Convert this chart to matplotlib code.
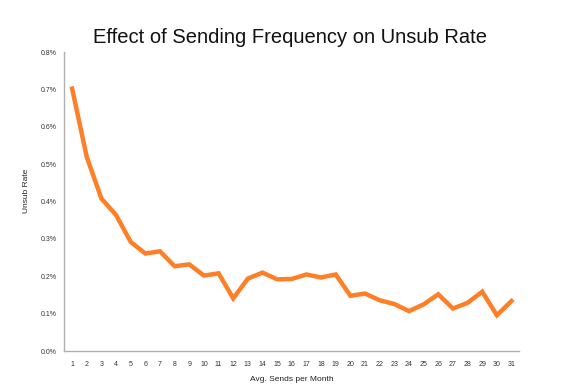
import matplotlib
matplotlib.use("Agg")
import matplotlib.pyplot as plt
from matplotlib.ticker import FuncFormatter

sends = list(range(1, 32))
unsub_rate = [0.702, 0.519, 0.408, 0.364, 0.292, 0.261, 0.267, 0.227, 0.232, 0.202,
              0.208, 0.141, 0.194, 0.210, 0.192, 0.193, 0.205, 0.197, 0.205, 0.148,
              0.154, 0.136, 0.126, 0.107, 0.125, 0.152, 0.114, 0.129, 0.159, 0.096,
              0.134]
y_ticks = [0.0, 0.1, 0.2, 0.3, 0.4, 0.5, 0.6, 0.7, 0.8]

plt.rcParams['font.family'] = ['Liberation Sans', 'DejaVu Sans']

fig = plt.figure(figsize=(5.67, 3.91), dpi=100)
ax = fig.add_axes([0.113, 0.102, 0.802, 0.765])

ax.plot(sends, unsub_rate, color='#ff7f27', linewidth=3.2, solid_joinstyle='miter')

ax.set_xlim(0.45, 31.5)
ax.set_ylim(0, 0.8)
ax.set_xticks(sends)
ax.set_yticks(y_ticks)
ax.yaxis.set_major_formatter(FuncFormatter(lambda v, p: '%.1f%%' % v))
ax.tick_params(axis='both', length=0, labelsize=5, colors='#333333')
ax.tick_params(axis='x', pad=7)
ax.tick_params(axis='y', pad=5)

for s in ['top', 'right']:
    ax.spines[s].set_visible(False)
for s in ['left', 'bottom']:
    ax.spines[s].set_color('#b0b0b0')
    ax.spines[s].set_linewidth(1.0)

ax.set_ylabel('Unsub Rate', fontsize=6, labelpad=8, color='#222222')
ax.yaxis.label.set_y(0.535)
ax.set_xlabel('Avg. Sends per Month', fontsize=6, labelpad=6, color='#222222')
fig.text(0.511, 0.903, 'Effect of Sending Frequency on Unsub Rate', fontsize=14.5,
         ha='center', va='center', color='#111111')

fig.savefig('out.png', dpi=100)
